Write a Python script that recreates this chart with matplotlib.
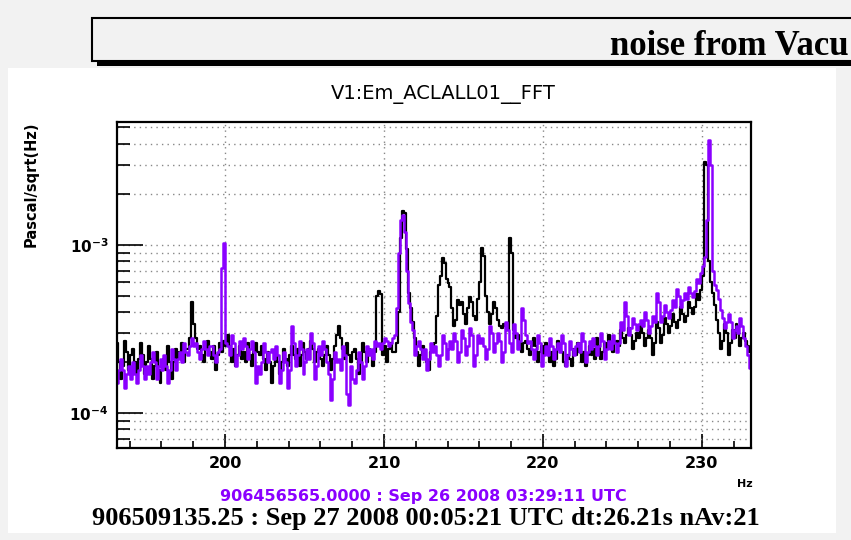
import matplotlib.pyplot as plt
import matplotlib.ticker as mticker
from matplotlib.patches import Rectangle
import numpy as np

# CONFIGS
W, H = 851, 540
f_start = 193.1875  # centre of first bin [Hz]
f_step = 0.125      # bin width [Hz]
unit = 1e-4         # values below are in units of 1e-4 Pa/sqrt(Hz)

# current spectrum (black), 8 bins per Hz, one row = 2 Hz
asd_now = [
    2.6, 2.0, 1.6, 1.9, 2.7, 2.3, 1.8, 2.2,   2.4, 2.0, 1.7, 2.1, 2.6, 2.2, 1.7, 2.0,
    2.5, 2.1, 1.6, 1.9, 2.3, 1.8, 1.5, 1.8,   2.1, 1.8, 2.5, 2.0, 1.6, 2.0, 2.4, 2.1,
    2.3, 2.6, 2.0, 2.4, 2.4, 2.8, 4.6, 3.4,   2.8, 2.4, 2.5, 2.2, 2.0, 2.4, 2.7, 2.3,
    2.1, 2.5, 1.8, 2.2, 2.6, 2.3, 2.7, 2.5,   2.9, 2.5, 2.0, 2.4, 1.9, 2.2, 2.5, 2.1,
    2.3, 2.0, 2.6, 2.2, 1.9, 2.3, 2.6, 2.3,   2.2, 2.5, 2.1, 1.8, 2.3, 2.0, 1.5, 1.9,
    2.2, 2.0, 1.7, 2.0, 2.4, 2.1, 1.9, 2.2,   2.5, 2.2, 2.1, 2.4, 1.9, 2.2, 2.6, 2.3,
    2.1, 2.4, 2.7, 2.4, 2.0, 2.3, 2.4, 2.1,   1.9, 2.2, 2.5, 2.2, 1.8, 2.1, 2.5, 2.9,
    3.3, 2.8, 2.4, 2.1, 2.6, 2.2, 2.0, 2.3,   2.4, 2.1, 1.7, 2.0, 2.6, 2.3, 2.0, 2.4,
    2.2, 1.9, 2.3, 5.0, 5.3, 5.1, 2.2, 2.5,   2.0, 2.4, 2.6, 2.3, 2.3, 2.6, 4.0, 11.0,
    16.0, 15.5, 9.5, 5.2, 4.2, 3.5, 2.8, 2.3,  1.9, 2.2, 2.5, 2.1, 2.0, 1.8, 2.3, 2.5,
    2.6, 3.8, 5.8, 6.5, 8.4, 7.8, 6.3, 5.9,   5.6, 4.2, 3.3, 3.6, 4.7, 4.4, 4.6, 3.9,
    3.4, 4.2, 4.9, 4.6, 3.8, 3.6, 4.8, 6.0,   9.6, 8.6, 5.0, 4.0, 3.4, 3.9, 4.6, 4.2,
    3.6, 3.3, 3.2, 3.4, 3.3, 3.1, 11.0, 9.0,  3.1, 2.8, 2.9, 2.6, 2.3, 2.6, 2.7, 2.4,
    2.2, 2.5, 2.8, 2.5, 2.0, 2.3, 2.5, 2.2,   2.6, 2.3, 2.0, 2.3, 1.9, 2.1, 2.7, 2.4,
    2.3, 2.0, 1.9, 2.2, 2.1, 1.9, 2.4, 2.2,   2.6, 2.3, 2.0, 2.3, 1.9, 2.2, 2.5, 2.2,
    2.4, 2.1, 2.8, 2.5, 2.1, 2.3, 2.6, 2.4,   2.9, 2.6, 2.3, 2.6, 2.7, 2.5, 3.1, 2.8,
    2.6, 2.9, 3.2, 2.9, 2.4, 2.7, 3.0, 2.8,   3.3, 3.0, 2.5, 2.8, 3.1, 2.8, 2.2, 2.6,
    3.5, 3.2, 2.6, 2.9, 3.7, 3.4, 3.0, 3.3,   3.9, 3.5, 3.2, 3.6, 4.3, 3.9, 3.5, 3.8,
    4.6, 4.2, 3.9, 4.3, 5.1, 4.7, 5.4, 6.5,   31.0, 30.0, 8.0, 6.0, 5.2, 4.4, 3.6, 3.0,
    2.4, 2.7, 3.4, 3.0, 2.2, 2.6, 3.1, 2.8,   3.4, 3.0, 2.5, 2.8, 3.0, 2.7, 2.5, 2.3,
]

# reference spectrum (violet)
asd_ref = [
    1.5, 1.8, 2.1, 1.8, 1.4, 1.7, 1.9, 1.6,   2.0, 1.7, 1.5, 1.8, 2.2, 1.9, 1.6, 1.9,
    1.7, 2.0, 2.3, 2.0, 1.6, 1.9, 2.1, 1.8,   2.2, 1.9, 1.5, 1.8, 2.4, 2.1, 1.8, 2.1,
    2.3, 2.0, 2.6, 2.3, 2.2, 2.5, 2.8, 2.5,   2.6, 2.3, 2.1, 2.4, 2.7, 2.4, 2.2, 2.5,
    2.5, 2.2, 2.0, 2.3, 2.4, 7.3, 10.2, 2.6,  2.5, 2.2, 2.9, 2.6, 1.9, 2.2, 2.7, 2.4,
    2.8, 2.5, 2.1, 2.4, 2.7, 2.3, 1.5, 1.9,   1.7, 2.0, 2.6, 2.3, 2.0, 2.3, 2.4, 2.1,
    2.5, 2.2, 1.5, 1.8, 2.3, 2.0, 1.4, 1.8,   3.3, 2.6, 1.9, 2.2, 2.7, 2.4, 1.7, 2.0,
    2.4, 2.1, 3.0, 2.6, 1.6, 1.9, 2.5, 2.2,   2.7, 2.4, 2.0, 1.7, 1.2, 1.6, 2.3, 2.0,
    2.1, 1.8, 2.5, 2.2, 1.3, 1.12, 1.9, 1.6,  1.5, 1.8, 2.3, 2.0, 1.6, 1.9, 2.5, 2.2,
    2.4, 2.1, 2.7, 2.5, 2.6, 2.4, 2.6, 2.8,   2.7, 2.5, 2.6, 2.8, 2.9, 4.2, 9.0, 14.0,
    15.0, 12.0, 7.0, 4.5, 3.5, 3.1, 2.2, 2.5,  2.7, 2.4, 2.1, 2.4, 1.8, 2.1, 2.6, 2.3,
    2.5, 2.2, 1.9, 2.2, 2.9, 2.6, 2.1, 2.4,   2.7, 2.4, 3.0, 2.7, 2.0, 2.3, 3.1, 2.8,
    2.2, 2.5, 3.2, 2.9, 1.9, 2.2, 2.9, 2.6,   2.8, 2.5, 2.1, 2.4, 3.3, 3.0, 2.3, 2.6,
    3.0, 2.7, 2.0, 2.3, 3.5, 3.1, 2.6, 2.3,   3.4, 3.0, 2.4, 2.7, 4.2, 3.6, 2.9, 2.6,
    2.7, 2.4, 2.1, 2.4, 2.9, 2.6, 1.9, 2.2,   2.5, 2.2, 2.8, 2.5, 2.1, 2.4, 2.6, 2.3,
    2.9, 2.6, 1.9, 2.2, 2.7, 2.4, 2.2, 2.5,   2.6, 2.3, 3.0, 2.7, 2.0, 2.3, 2.7, 2.4,
    2.8, 2.5, 2.2, 2.5, 3.0, 2.7, 2.1, 2.4,   2.7, 2.4, 2.9, 2.6, 2.3, 2.6, 3.5, 3.1,
    4.6, 3.8, 2.9, 3.2, 3.7, 3.4, 3.1, 3.4,   3.6, 3.3, 4.0, 3.6, 3.0, 3.3, 3.8, 3.5,
    5.2, 4.6, 3.5, 3.8, 4.4, 4.0, 3.7, 4.1,   4.7, 4.3, 5.5, 5.0, 4.3, 4.7, 5.2, 4.8,
    5.6, 5.2, 4.9, 5.3, 6.3, 5.9, 6.8, 7.5,   8.5, 14.0, 42.0, 30.0, 7.0, 5.8, 5.4, 4.8,
    4.1, 3.7, 3.2, 3.5, 3.9, 3.5, 2.8, 3.1,   3.3, 3.0, 3.7, 3.3, 2.8, 2.5, 2.2, 1.85,
]

plot_title = 'V1:Em_ACLALL01__FFT'
y_label = 'Pascal/sqrt(Hz)'
x_label = 'Hz'
banner = 'noise from Vacu'   # the part of the pad title that fits on the canvas
ref_stamp = '906456565.0000 : Sep 26 2008 03:29:11 UTC'
now_stamp = '906509135.25 : Sep 27 2008 00:05:21 UTC dt:26.21s nAv:21'
violet = '#8a00ff'
# CONFIG END


def px(x, y):
    # pixel (from top-left) -> figure fraction
    return x / W, 1 - y / H


fig = plt.figure(figsize=(W / 100, H / 100), dpi=100, facecolor='#f2f2f2')

# white pad
fig.add_artist(Rectangle(px(8, 533), 828 / W, 465 / H, transform=fig.transFigure,
                         facecolor='white', edgecolor='none', zorder=0))
# banner box with shadow
fig.add_artist(Rectangle(px(97, 66), 800 / W, 6 / H, transform=fig.transFigure,
                         facecolor='black', edgecolor='none', zorder=1))
fig.add_artist(Rectangle(px(92, 61), 800 / W, 43 / H, transform=fig.transFigure,
                         facecolor='#f2f2f2', edgecolor='black', lw=1.5, zorder=2))
fig.text(*px(849, 55), banner, fontsize=25, fontweight='bold', family='Liberation Serif',
         ha='right', va='baseline', zorder=3)

ax = fig.add_axes([117 / W, 1 - 448 / H, 634 / W, 326 / H])
ax.set_zorder(4)

freq = f_start + f_step * np.arange(len(asd_now))
ax.step(freq, np.array(asd_now) * unit, where='mid', color='black', lw=1.6)
ax.step(freq, np.array(asd_ref) * unit, where='mid', color=violet, lw=1.8)

ax.set_yscale('log')
ax.set_xlim(193.2, 233.1)
ax.set_ylim(6.19e-5, 5.39e-3)

ax.xaxis.set_major_locator(mticker.MultipleLocator(10))
ax.xaxis.set_minor_locator(mticker.MultipleLocator(2))
ax.yaxis.set_major_locator(mticker.LogLocator(base=10))
ax.yaxis.set_minor_locator(mticker.LogLocator(base=10, subs=np.arange(2, 10)))
ax.yaxis.set_minor_formatter(mticker.NullFormatter())
ax.yaxis.set_major_formatter(mticker.FuncFormatter(
    lambda v, p: r'$\mathbf{10^{%d}}$' % round(np.log10(v))))

ax.tick_params(which='both', direction='in', top=False, right=False, width=1.2)
ax.tick_params(axis='y', which='major', length=19, labelsize=11, pad=6)
ax.tick_params(axis='y', which='minor', length=9)
ax.tick_params(axis='x', which='major', length=10, labelsize=11.5, pad=6)
ax.tick_params(axis='x', which='minor', length=5)
for lab in ax.get_xticklabels():
    lab.set_fontweight('bold')

ax.grid(True, which='major', axis='x', color='#888888', ls=(0, (1, 3)), lw=1)
ax.grid(True, which='both', axis='y', color='#888888', ls=(0, (1, 3)), lw=1)
for s in ax.spines.values():
    s.set_linewidth(1.6)

fig.text(*px(443, 95), plot_title, fontsize=14, ha='center', va='center')
fig.text(*px(31, 184), y_label, fontsize=10.5, fontweight='bold', rotation=90,
         ha='center', va='center')
fig.text(*px(745, 484), x_label, fontsize=8, fontweight='bold', ha='center', va='center')
fig.text(*px(423, 497), ref_stamp, fontsize=11.5, fontweight='bold', color=violet,
         ha='center', va='center')
fig.text(*px(426, 519), now_stamp, fontsize=19, fontweight='bold', family='Liberation Serif',
         ha='center', va='center')

plt.savefig('out.png', dpi=100, facecolor=fig.get_facecolor())
